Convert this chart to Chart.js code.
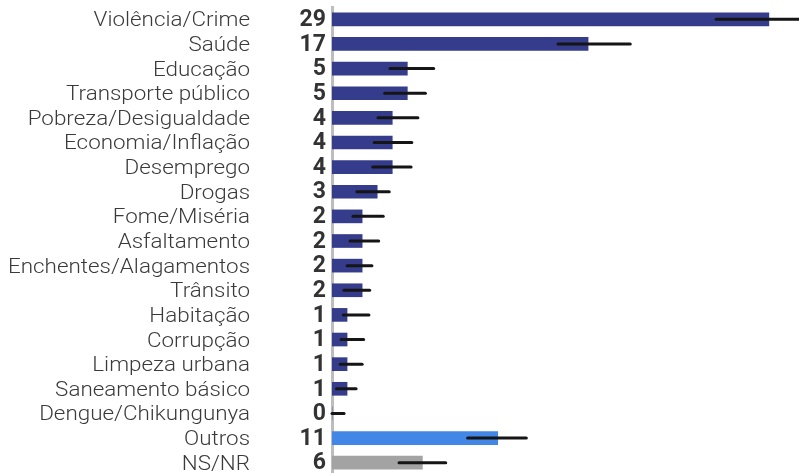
<!DOCTYPE html>
<html>
<head>
<meta charset="utf-8">
<script src="https://cdn.jsdelivr.net/npm/chart.js@4"></script>
<style>
  html, body { margin: 0; padding: 0; background: #fff; overflow: hidden; }
  canvas { display: block; }
</style>
</head>
<body>
<canvas id="graficoBarras" width="799" height="475"></canvas>
<script>
  const categorias = ['Violência/Crime', 'Saúde', 'Educação', 'Transporte público', 'Pobreza/Desigualdade',
    'Economia/Inflação', 'Desemprego', 'Drogas', 'Fome/Miséria', 'Asfaltamento', 'Enchentes/Alagamentos',
    'Trânsito', 'Habitação', 'Corrupção', 'Limpeza urbana', 'Saneamento básico', 'Dengue/Chikungunya',
    'Outros', 'NS/NR'];
  const valores = [29, 17, 5, 5, 4, 4, 4, 3, 2, 2, 2, 2, 1, 1, 1, 1, 0, 11, 6];
  const erroMin = [25.5, 15.0, 3.85, 3.5, 3.05, 2.8, 2.7, 1.65, 1.4, 1.2, 1.0, 0.8, 0.75, 0.6, 0.55, 0.3, 0, 9.0, 4.45];
  const erroMax = [31, 19.8, 6.75, 6.2, 5.7, 5.3, 5.25, 3.8, 3.4, 3.1, 2.65, 2.5, 2.45, 2.1, 2.0, 1.6, 0.8, 12.9, 7.55];
  const cores = valores.map((v, i) => categorias[i] === 'Outros' ? '#4287e6' : categorias[i] === 'NS/NR' ? '#a3a3a3' : '#343c8b');

  // barras de erro + rotulos + numeros em negrito ao lado do eixo
  const extras = {
    id: 'extras',
    afterDatasetsDraw(chart) {
      const { ctx, scales: { x, y }, chartArea } = chart;
      ctx.save();
      ctx.strokeStyle = '#151515';
      ctx.lineWidth = 3;
      ctx.lineCap = 'round';
      erroMin.forEach((lo, i) => {
        const py = y.getPixelForValue(i);
        ctx.beginPath();
        ctx.moveTo(x.getPixelForValue(lo), py);
        ctx.lineTo(x.getPixelForValue(erroMax[i]), py);
        ctx.stroke();
      });
      ctx.textAlign = 'right';
      ctx.textBaseline = 'middle';
      ctx.fillStyle = '#3a3a3a';
      ctx.font = '300 20px Roboto';
      categorias.forEach((c, i) => {
        ctx.save();
        ctx.translate(250, y.getPixelForValue(i) + 2);
        ctx.scale(1.12, 1); // texto do original e mais largo
        ctx.fillText(c, 0, 0);
        ctx.restore();
      });
      ctx.fillStyle = '#333';
      ctx.font = 'bold 23px Roboto';
      valores.forEach((v, i) => {
        ctx.fillText(String(v), chartArea.left - 6, y.getPixelForValue(i) + 1);
      });
      ctx.restore();
    }
  };

  new Chart(document.getElementById('graficoBarras'), {
    type: 'bar',
    data: {
      labels: categorias,
      datasets: [{
        data: valores,
        backgroundColor: cores,
        barThickness: 13
      }]
    },
    options: {
      indexAxis: 'y',
      responsive: false,
      animation: false,
      layout: { padding: { top: 7, right: 0, bottom: 0, left: 0 } },
      plugins: { legend: { display: false }, tooltip: { enabled: false } },
      scales: {
        x: {
          display: false,
          min: 0,
          max: 31
        },
        y: {
          grid: { display: false },
          border: { display: true, color: '#bdbdbd', width: 3 },
          afterFit(axis) { axis.width = 332; },
          ticks: { display: false }
        }
      }
    },
    plugins: [extras]
  });
</script>
</body>
</html>
